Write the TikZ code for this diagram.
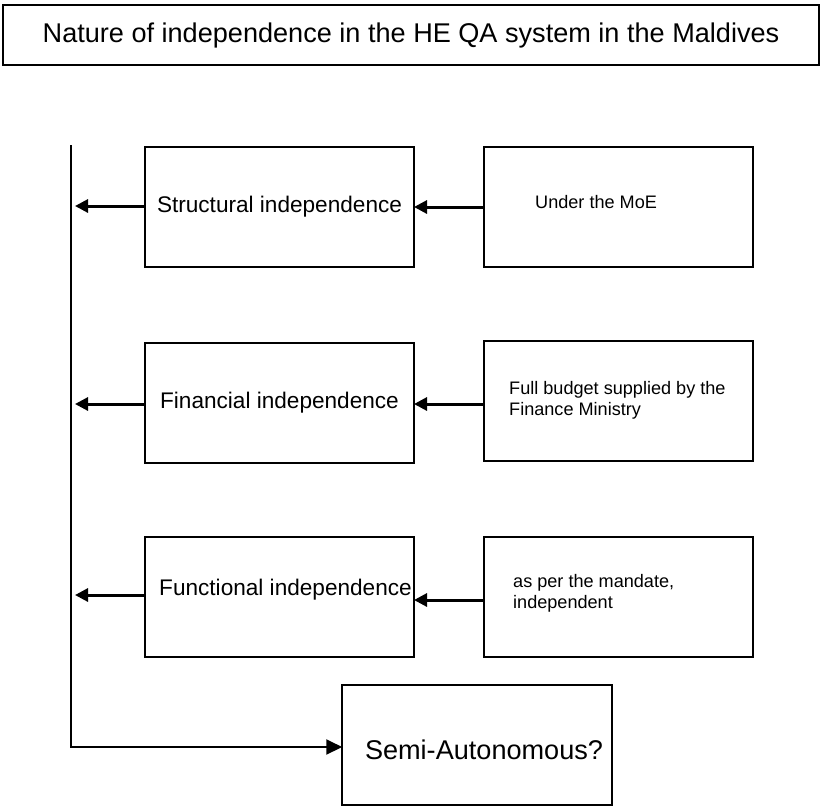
\documentclass[tikz,border=0pt]{standalone}
\usepackage{fontspec}
\setmainfont{Liberation Sans}
\usetikzlibrary{arrows.meta}
\begin{document}
\begin{tikzpicture}[x=1pt,y=-1pt,
  box/.style={draw, line width=2pt, rectangle, inner sep=0pt, outer sep=0pt, align=center},
  dimbox/.style={box, minimum width=269pt, minimum height=120pt},
  mainfont/.style={font=\fontsize{22.6}{27}\selectfont},
  notefont/.style={font=\fontsize{18.1}{21}\selectfont},
  note/.style={notefont, anchor=west, align=left, inner sep=0pt},
  feed/.style={line width=3pt, -{Triangle[length=13pt,width=13pt]}},
  spine/.style={line width=2pt}]
\useasboundingbox (0,0) rectangle (821,807);
\fill[white] (0,0) rectangle (821,807);

% heading
\node[box, line width=2.2pt, minimum width=816pt, minimum height=60pt,
      font=\fontsize{27.1}{32}\selectfont] (title) at (411,35)
      {Nature of independence in the HE QA system in the Maldives};

% kinds of independence
\node[dimbox, mainfont] (l1) at (279.5,207) {Structural independence};
\node[dimbox, mainfont] (l2) at (279.5,403) {Financial independence};
\node[dimbox, mainfont] (l3) at (279.5,597) {};
\node[mainfont, inner sep=0pt] (l3t) at (285.5,590) {Functional independence};

% descriptions
\node[dimbox] (r1) at (618.5,207) {};
\node[dimbox] (r2) at (618,400.5) {};
\node[dimbox] (r3) at (618,597) {};
\node[note] (r1t) at (535,202) {Under the MoE};
\node[note] (r2t) at (509,400) {Full budget supplied by the\\Finance Ministry};
\node[note] (r3t) at (513,593) {as per the mandate,\\independent};

% conclusion
\node[dimbox, minimum width=269.5pt, font=\fontsize{27.1}{32}\selectfont] (semi) at (477,745) {};
\node[inner sep=0pt, font=\fontsize{27.1}{32}\selectfont] (semit) at (484,750) {Semi-Autonomous?};

% description -> kind
\draw[feed] (r1.west) -- (l1.east);
\draw[feed] (r2.west |- 0,404) -- (l2.east |- 0,404);
\draw[feed] (r3.west |- 0,600) -- (l3.east |- 0,600);

% vertical collector line
\coordinate (top) at (70.7,145);
\coordinate (corner) at (70.7,747);
\draw[feed] (l1.west |- 0,206) -- (75,206);
\draw[feed] (l2.west |- 0,404) -- (75,404);
\draw[feed] (l3.west |- 0,595) -- (75,595);
\draw[spine, -{Triangle[length=16pt,width=15pt]}] (top) -- (corner) -- (corner -| semi.west);
\end{tikzpicture}
\end{document}
